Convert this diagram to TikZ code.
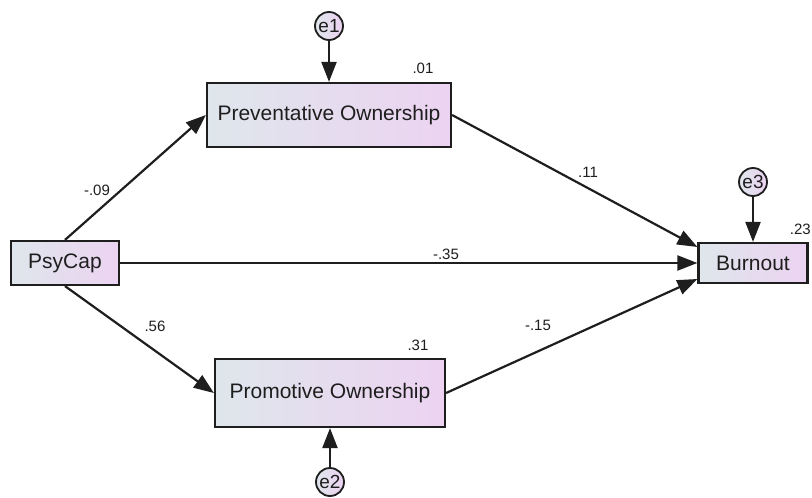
\documentclass[tikz,border=0pt]{standalone}
\usepackage{fontspec}
\setmainfont{Liberation Sans}
\usetikzlibrary{arrows.meta}
\definecolor{boxleft}{HTML}{DFE6EC}
\definecolor{boxright}{HTML}{ECD3F1}
\definecolor{ink}{HTML}{1E1E1E}

\begin{document}
\begin{tikzpicture}[x=1pt, y=-1pt,
  var/.style={rectangle, draw=ink, line width=2.2pt, left color=boxleft, right color=boxright,
    text=ink, inner sep=0pt, font=\fontsize{21}{23}\selectfont},
  err/.style={circle, draw=ink, line width=1.8pt, left color=boxleft, right color=boxright,
    text=ink, minimum size=28pt, inner sep=0pt, font=\fontsize{19}{21}\selectfont},
  lbl/.style={text=ink, inner sep=0pt, font=\fontsize{15}{17}\selectfont},
  reg/.style={-{Triangle[length=20pt, width=15pt]}, line width=2.2pt, draw=ink}]
\useasboundingbox (0,0) rectangle (812,498);
% observed variables
\node[var, minimum width=108pt, minimum height=44pt] (psycap) at (65,263) {PsyCap};
\node[var, minimum width=244pt, minimum height=64pt] (prev) at (329,115) {Preventative Ownership};
\node[var, minimum width=230pt, minimum height=68pt] (prom) at (330,393) {Promotive Ownership};
\node[var, minimum width=109pt, minimum height=40pt] (burn) at (753,263) {Burnout};
% error terms
\node[err] (e1) at (329,26) {e1};
\node[err] (e2) at (330,482) {e2};
\node[err] (e3) at (753,182) {e3};
% paths
\path (psycap.north) edge[reg] (prev.west);
\path (psycap.south) edge[reg] (prom.west);
\path (psycap.east) edge[reg] (burn.west);
\path (prev.east) edge[reg] ([yshift=16pt]burn.west);
\path (prom.east) edge[reg] ([yshift=-16pt]burn.west);
\path (e1) edge[reg] (prev);
\path (e2) edge[reg] (prom);
\path (e3) edge[reg] (burn);
% estimates
\node[lbl] (l1) at (97,190) {-.09};
\node[lbl] (l2) at (423,68) {.01};
\node[lbl] (l3) at (588,172) {.11};
\node[lbl] (l4) at (446,254) {-.35};
\node[lbl] (l5) at (155,326) {.56};
\node[lbl] (l6) at (418,345) {.31};
\node[lbl] (l7) at (538,325) {-.15};
\node[lbl, anchor=east] (l8) at (811,229) {.23};
\end{tikzpicture}
\end{document}
